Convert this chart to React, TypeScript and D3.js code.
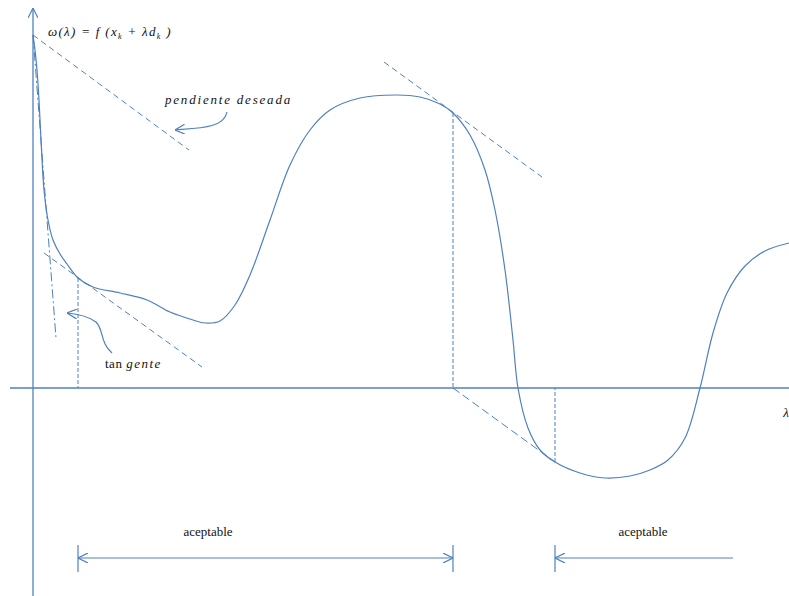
import React from "react";
import * as d3 from "d3";

// Curve ω(λ) (λ, ω) with origin at axis crossing
const curveLambda = [0, 2, 4, 6, 8, 11, 15, 20, 27, 34, 45, 60, 87, 114, 137, 160, 172, 187, 202, 217, 237, 257, 277, 297, 327, 364, 387, 407, 420, 437, 452, 462, 472, 480, 485, 495, 507, 522, 547, 572, 597, 617, 635, 652, 667, 680, 694, 712, 732, 756];
const curveOmega = [353, 338, 318, 288, 248, 198, 168, 148, 134, 124, 110, 101, 95, 88, 76, 68, 65, 67, 83, 113, 168, 223, 258, 278, 290, 293, 291, 284, 275, 253, 218, 178, 118, 48, 0, -40, -62, -74, -85, -90, -88, -82, -72, -50, 0, 55, 95, 122, 137, 145];

// Auxiliary lines: [λ1, ω1, λ2, ω2]
const desiredSlope = [0, 353, 156, 238];
const tangentOrigin = [0, 353, 23, 50];
const tangentA = [11, 135, 169, 21];
const tangentB = [351, 326, 509, 211];
const lowerSlope = [420, 0, 522, -74];
const dropsLambda = [45, 420, 522];
const dropsOmega = [110, 275, -74];
const acceptRanges = [[45, 420], [522, 700]];
const acceptLabels = ["aceptable", "aceptable"];

const W = 789, H = 596;
const BLUE = "#4f81bd";

export default function App() {
  const x = d3.scaleLinear().domain([0, 756]).range([33, 789]);
  const y = d3.scaleLinear().domain([0, 388]).range([388, 0]);
  const pts: [number, number][] = curveLambda.map((l, i) => [l, curveOmega[i]]);
  const line = d3.line<[number, number]>().x(d => x(d[0])).y(d => y(d[1])).curve(d3.curveCatmullRom.alpha(0.5));
  const seg = (s: number[], dash: string, key: string) => (
    <line key={key} x1={x(s[0])} y1={y(s[1])} x2={x(s[2])} y2={y(s[3])} stroke={BLUE} strokeWidth={1} strokeDasharray={dash} />
  );
  const arrowY = 558;
  const serif = "Liberation Serif";
  return (
    <svg width={W} height={H} style={{ position: "absolute", left: 0, top: 0 }}>
      <defs>
        <marker id="open" viewBox="0 0 10 10" refX="10" refY="5" markerWidth="10" markerHeight="10" markerUnits="userSpaceOnUse" orient="auto-start-reverse">
          <path d="M0,0 L10,5 L0,10" fill="none" stroke={BLUE} strokeWidth={1.2} />
        </marker>
      </defs>
      <rect width={W} height={H} fill="#fff" />
      {/* axes */}
      <line x1={10} y1={y(0)} x2={W} y2={y(0)} stroke={BLUE} strokeWidth={1.3} />
      <line x1={x(0)} y1={H} x2={x(0)} y2={8} stroke={BLUE} strokeWidth={1.3} markerEnd="url(#open)" />
      {/* curve */}
      <path d={line(pts) || ""} fill="none" stroke={BLUE} strokeWidth={1.2} />
      {seg(desiredSlope, "6,4", "ds")}
      {seg(tangentOrigin, "9,3,2,3", "to")}
      {seg(tangentA, "6,4", "ta")}
      {seg(tangentB, "6,4", "tb")}
      {seg(lowerSlope, "8,4", "ls")}
      {dropsLambda.map((l, i) => (
        <line key={"d" + i} x1={x(l)} y1={y(dropsOmega[i])} x2={x(l)} y2={y(0)} stroke={BLUE} strokeWidth={1} strokeDasharray="4,2" />
      ))}
      {/* curved arrows */}
      <path d="M227,112 C224,128 200,128 175,130" fill="none" stroke={BLUE} strokeWidth={1.2} markerEnd="url(#open)" />
      <path d="M112,353 C100,343 104,330 96,322 C88,316 78,314 67,313" fill="none" stroke={BLUE} strokeWidth={1.2} markerEnd="url(#open)" />
      {/* acceptable ranges */}
      {acceptRanges.map((r, i) => (
        <g key={"a" + i}>
          <line x1={x(r[0])} y1={545} x2={x(r[0])} y2={572} stroke={BLUE} strokeWidth={1.2} />
          {i === 0 && <line x1={x(r[1])} y1={545} x2={x(r[1])} y2={572} stroke={BLUE} strokeWidth={1.2} />}
          <line x1={x(r[0])} y1={arrowY} x2={x(r[1])} y2={arrowY} stroke={BLUE} strokeWidth={1.2}
            markerStart="url(#open)" markerEnd={i === 0 ? "url(#open)" : undefined} />
          <text x={i === 0 ? 208 : 643} y={536} textAnchor="middle" fontFamily={serif} fontSize={13} fill="#111">{acceptLabels[i]}</text>
        </g>
      ))}
      {/* labels */}
      <text x={48} y={36} fontFamily={serif} fontSize={13} fontStyle="italic" fill="#111" letterSpacing={1.3}>
        ω(λ) = f (x<tspan fontSize={8} dy={3}>k</tspan><tspan dy={-3}> + λd</tspan><tspan fontSize={8} dy={3}>k</tspan><tspan dy={-3}> )</tspan>
      </text>
      <text x={165} y={104} fontFamily={serif} fontSize={13} fontStyle="italic" fill="#111" letterSpacing={1.8}>pendiente deseada</text>
      <text x={105} y={368} fontFamily={serif} fontSize={13} fill="#111" letterSpacing={0.5}>
        tan <tspan fontStyle="italic" letterSpacing={1.5}>gente</tspan>
      </text>
      <text x={789} y={417} textAnchor="end" fontFamily={serif} fontSize={13} fontStyle="italic" fill="#111">λ</text>
    </svg>
  );
}
